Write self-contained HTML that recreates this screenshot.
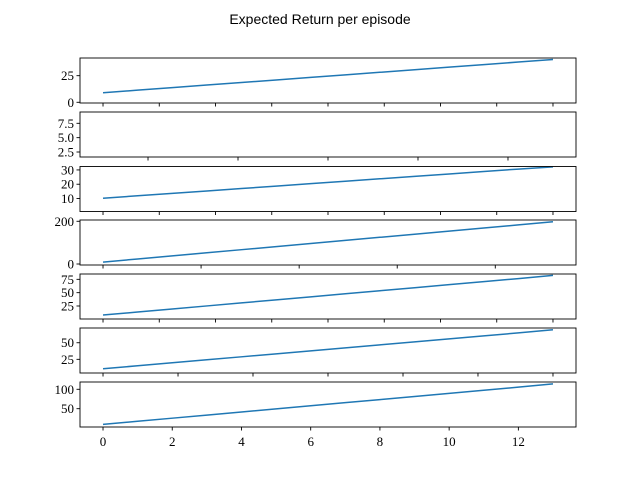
<!DOCTYPE html>
<html><head><meta charset="utf-8"><style>
html,body{margin:0;padding:0;background:#fff;width:640px;height:480px;overflow:hidden}
svg{display:block}
</style></head><body>
<svg id="fig" width="640" height="480" xmlns="http://www.w3.org/2000/svg">
<text x="320" y="24" text-anchor="middle" font-family="Liberation Sans, sans-serif" font-size="14">Expected Return per episode</text>
</svg>
<script>
const episodes = [0,1,2,3,4,5,6,7,8,9,10,11,12,13];
const series1 = [9,11.4,13.8,16.2,18.6,21,23.4,25.8,28.2,30.6,33,35.4,37.8,40.2];
const series2 = [];
const series3 = [10.2,11.9,13.6,15.3,17,18.7,20.4,22.1,23.8,25.5,27.2,28.9,30.6,32.1];
const series4 = [9,23.5,38,52.5,67,81.5,96,110.5,125,139.5,154,168.5,183,198];
const series5 = [8,13.7,19.4,25.1,30.8,36.5,42.2,47.9,53.6,59.3,65,70.7,76.4,82.4];
const series6 = [10.8,15.3,19.8,24.3,28.8,33.3,37.8,42.3,46.8,51.3,55.8,60.3,64.8,69.6];
const series7 = [9.5,17.5,25.5,33.5,41.5,49.5,57.5,65.5,73.5,81.5,89.5,97.5,105.5,114];
const yTicks = [[0,25],[2.5,5.0,7.5],[10,20,30],[0,200],[25,50,75],[25,50],[50,100]];
const yTickLabels = [["0","25"],["2.5","5.0","7.5"],["10","20","30"],["0","200"],["25","50","75"],["25","50"],["50","100"]];
const yLims = [[-0.66,41.6],[1.63,9.47],[0.93,32.4],[-4.7,206],[0.6,85],[4.4,72.2],[2.8,118.8]];
const xTicks = [
 [0,1.625,3.25,4.875,6.5,8.125,9.75,11.375,13],
 [1.3,3.9,6.5,9.1,11.7],
 [0,1.625,3.25,4.875,6.5,8.125,9.75,11.375,13],
 [0,2.833,5.667,8.5,11.333],
 [0,1.625,3.25,4.875,6.5,8.125,9.75,11.375,13],
 [0,2.167,4.333,6.5,8.667,10.833,13],
 [0,2,4,6,8,10,12]
];
const xTickLabels = ["0","2","4","6","8","10","12"];
const allSeries = [series1,series2,series3,series4,series5,series6,series7];
const xLim = [-0.665,13.665];
const NS = "http://www.w3.org/2000/svg";
const svg = document.getElementById('fig');
const L=80, R=576, H=45, tops=[58,112,166.5,220,274,328,382];
function mk(tag, attrs, parent){const e=document.createElementNS(NS,tag);for(const k in attrs)e.setAttribute(k,attrs[k]);(parent||svg).appendChild(e);return e;}
function xs(v){return L+(v-xLim[0])/(xLim[1]-xLim[0])*(R-L);}
for(let i=0;i<7;i++){
  const T=tops[i], B=T+H, yl=yLims[i];
  const ys=v=>B-(v-yl[0])/(yl[1]-yl[0])*H;
  const g=mk('g',{});
  
  
  const s=allSeries[i];
  if(s.length){
    const p=s.map((v,j)=>(j?'L':'M')+xs(episodes[j]).toFixed(2)+','+ys(v).toFixed(2)).join(' ');
    const path=mk('path',{d:p,fill:'none',stroke:'#1f77b4','stroke-width':1.5},g);
    
    
  }
  const frame=mk('rect',{x:L,y:T,width:R-L,height:H,fill:'none',stroke:'#000','stroke-width':0.9},g);
  
  
  yTicks[i].forEach((v,j)=>{
    const y=ys(v);
    mk('line',{x1:L-3.5,x2:L,y1:y,y2:y,stroke:'#000','stroke-width':0.9},g);
    const t=mk('text',{x:L-6,y:y+4.5,'text-anchor':'end','font-family':'Liberation Serif, serif','font-size':13},g);
    
    
    t.textContent=yTickLabels[i][j];
  });
  xTicks[i].forEach((v,j)=>{
    const x=xs(v);
    mk('line',{x1:x,x2:x,y1:B,y2:B+3.5,stroke:'#000','stroke-width':0.9},g);
    if(i===6){
      const t=mk('text',{x:x,y:B+19,'text-anchor':'middle','font-family':'Liberation Serif, serif','font-size':13},g);
      
      
      t.textContent=xTickLabels[j];
    }
  });
}
</script>
</body></html>
